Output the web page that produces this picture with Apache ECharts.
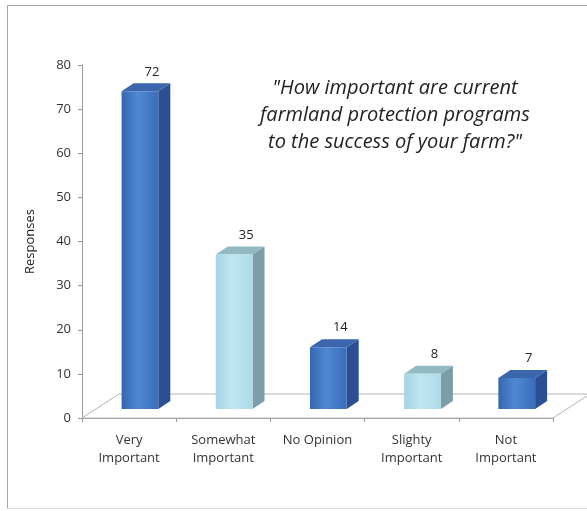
<!DOCTYPE html>
<html>
<head>
<meta charset="utf-8">
<script src="https://cdn.jsdelivr.net/npm/echarts@6/dist/echarts.min.js"></script>
<style>
  html, body { margin: 0; padding: 0; background: #ffffff; }
  #chart { width: 587px; height: 511px; }
</style>
</head>
<body>
<div id="chart"></div>
<script>
// ---- data ----
const categories = ['Very\nImportant', 'Somewhat\nImportant', 'No Opinion', 'Slighty\nImportant', 'Not\nImportant'];
const responses = [72, 35, 14, 8, 7];
const yMin = 0;
const yMax = 80;
const yStep = 10;
const titleLines = ['"How important are current', 'farmland protection programs', 'to the success of your farm?"'];
const yAxisTitle = 'Responses';

// ---- styles ----
const FONT = '"Open Sans", Lato, sans-serif';
const darkStyle = {
  front: ['#3566b2', '#4f89d2', '#3a6cba'],
  side: '#2b4f90',
  top: '#3b66ad'
};
const lightStyle = {
  front: ['#a4d4e3', '#c0e6f2', '#addae8'],
  side: '#7c9ea8',
  top: '#93b9c3'
};
const FLOOR_DX = 37, FLOOR_DY = 24;

const chart = echarts.init(document.getElementById('chart'), null, { renderer: 'canvas' });

function renderFloor(params, api) {
  const cs = params.coordSys;
  const x0 = cs.x, x1 = cs.x + cs.width, y = cs.y + cs.height;
  return {
    type: 'polygon',
    shape: { points: [[x0, y], [x1, y], [x1 + FLOOR_DX, y - FLOOR_DY], [x0 + FLOOR_DX, y - FLOOR_DY]] },
    style: { fill: '#ffffff', stroke: '#b4b4b4', lineWidth: 1 },
    silent: true
  };
}

function renderBar(params, api) {
  const i = api.value(0);
  const v = api.value(1);
  const base = api.coord([i, 0]);
  const topPt = api.coord([i, v]);
  const bw = api.size([1, 0])[0];
  const w = bw * 0.39;
  const ox = bw * 0.115, oy = 9;
  const dx = 12, dy = 8;
  const cx = base[0] + ox;
  const x0 = cx - w / 2, x1 = cx + w / 2;
  const yb = base[1] - oy, yt = topPt[1] - oy;
  const st = (i % 2 === 0) ? darkStyle : lightStyle;
  return {
    type: 'group',
    children: [
      {
        type: 'polygon',
        shape: { points: [[x1, yb], [x1 + dx, yb - dy], [x1 + dx, yt - dy], [x1, yt]] },
        style: { fill: st.side }
      },
      {
        type: 'polygon',
        shape: { points: [[x0, yt], [x0 + dx, yt - dy], [x1 + dx, yt - dy], [x1, yt]] },
        style: { fill: st.top }
      },
      {
        type: 'rect',
        shape: { x: x0, y: yt, width: w, height: yb - yt },
        style: {
          fill: new echarts.graphic.LinearGradient(0, 0, 1, 0, [
            { offset: 0, color: st.front[0] },
            { offset: 0.45, color: st.front[1] },
            { offset: 1, color: st.front[2] }
          ])
        }
      },
      {
        type: 'text',
        x: cx + dx,
        y: yt - dy - 5,
        style: {
          text: String(v),
          fill: '#222222',
          font: '13px ' + FONT,
          align: 'center',
          verticalAlign: 'bottom'
        }
      }
    ]
  };
}

const option = {
  backgroundColor: '#ffffff',
  animation: false,
  title: {
    text: titleLines.join('\n'),
    left: 390,
    top: 70,
    textAlign: 'center',
    textStyle: {
      fontFamily: FONT,
      fontStyle: 'italic',
      fontWeight: 'normal',
      fontSize: 20,
      lineHeight: 27,
      color: '#222222'
    }
  },
  grid: { left: 82, right: 34, top: 65, bottom: 93, containLabel: false },
  xAxis: {
    type: 'category',
    data: categories,
    boundaryGap: true,
    axisLine: { show: true, lineStyle: { color: '#9a9a9a', width: 1 } },
    axisTick: { show: true, length: 4, lineStyle: { color: '#9a9a9a' } },
    axisLabel: {
      interval: 0,
      margin: 13,
      fontFamily: FONT,
      fontSize: 13,
      lineHeight: 18,
      color: '#333333'
    },
    splitLine: { show: false }
  },
  yAxis: {
    type: 'value',
    min: yMin,
    max: yMax,
    interval: yStep,
    name: yAxisTitle,
    nameLocation: 'middle',
    nameGap: 45,
    nameRotate: 90,
    nameTextStyle: { fontFamily: FONT, fontSize: 13, color: '#222222' },
    axisLine: { show: true, lineStyle: { color: '#9a9a9a', width: 1 } },
    axisTick: { show: true, length: 4, lineStyle: { color: '#9a9a9a' } },
    axisLabel: { margin: 11, fontFamily: FONT, fontSize: 13, color: '#333333' },
    splitLine: { show: false }
  },
  graphic: [
    { type: 'line', shape: { x1: 7.5, y1: 5.5, x2: 590, y2: 5.5 }, style: { stroke: '#a6a6a6', lineWidth: 1 }, silent: true },
    { type: 'line', shape: { x1: 7.5, y1: 5.5, x2: 7.5, y2: 508.5 }, style: { stroke: '#a6a6a6', lineWidth: 1 }, silent: true },
    { type: 'line', shape: { x1: 7.5, y1: 508.5, x2: 590, y2: 508.5 }, style: { stroke: '#dadada', lineWidth: 1 }, silent: true }
  ],
  series: [
    {
      type: 'custom',
      name: 'floor',
      renderItem: renderFloor,
      data: [[0, 0]],
      z: 1,
      silent: true
    },
    {
      type: 'custom',
      name: 'Responses',
      renderItem: renderBar,
      data: responses.map((v, i) => [i, v]),
      encode: { x: 0, y: 1 },
      z: 5
    }
  ]
};

chart.setOption(option);
</script>
</body>
</html>
